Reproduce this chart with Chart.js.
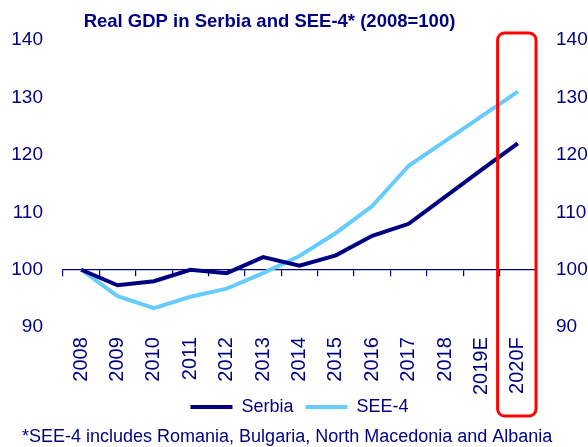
<!DOCTYPE html>
<html>
<head>
<meta charset="utf-8">
<script src="https://cdn.jsdelivr.net/npm/chart.js@4/dist/chart.umd.min.js"></script>
<style>
  html, body { margin: 0; padding: 0; background: #fff; }
  #wrap { width: 588px; height: 447px; position: relative; }
</style>
</head>
<body>
<div id="wrap"><canvas id="c" width="588" height="447"></canvas></div>
<script>
const categories = ['2008','2009','2010','2011','2012','2013','2014','2015','2016','2017','2018','2019E','2020F'];
const serbia = [100, 97.3, 98.0, 100.0, 99.4, 102.2, 100.7, 102.5, 105.9, 108.0, 112.7, 117.4, 122.0];
const see4   = [100, 95.4, 93.3, 95.3, 96.7, 99.4, 102.4, 106.4, 111.1, 118.1, 122.4, 126.7, 131.0];
const yTicks = [90, 100, 110, 120, 130, 140];
const highlighted = '2020F';
const titleText = 'Real GDP in Serbia and SEE-4* (2008=100)';
const footnoteText = '*SEE-4 includes Romania, Bulgaria, North Macedonia and Albania';

const NAVY = '#000080';
const LIGHT = '#66CCFF';
const FONT = 'Arial, "Liberation Sans", sans-serif';

const decorations = {
  id: 'decorations',
  afterLayout(chart) {
    // tuck the legend up close to the rotated year labels
    chart.legend.top -= 19;
    chart.legend.bottom -= 19;
  },
  afterDraw(chart) {
    const ctx = chart.ctx;
    const xs = chart.scales.x;
    const area = chart.chartArea;
    const legendMid = chart.legend.top + 12 + 9;
    // highlight box around the forecast column
    const idx = categories.indexOf(highlighted);
    const half = (xs.getPixelForValue(1) - xs.getPixelForValue(0)) / 2;
    const cx = xs.getPixelForValue(idx);
    const left = cx - half - 2, right = cx + half;
    const top = area.top - 7;
    const bottom = legendMid + 9;
    ctx.save();
    ctx.strokeStyle = '#FF0000';
    ctx.lineWidth = 3;
    ctx.beginPath();
    ctx.roundRect(left, top, right - left, bottom - top, 7);
    ctx.stroke();
    // title
    ctx.fillStyle = NAVY;
    ctx.textBaseline = 'middle';
    ctx.textAlign = 'center';
    ctx.font = 'bold 18.5px ' + FONT;
    ctx.fillText(titleText, (area.left + area.right) / 2 - 30, area.top - 18);
    // footnote
    ctx.textAlign = 'left';
    ctx.font = '18px ' + FONT;
    ctx.fillText(footnoteText, 22, legendMid + 30);
    ctx.restore();
  }
};

const fixWidth = (s) => { s.width = 52; };

new Chart(document.getElementById('c'), {
  type: 'line',
  data: {
    labels: categories,
    datasets: [
      { label: 'Serbia', data: serbia, borderColor: NAVY, backgroundColor: NAVY, borderWidth: 4, pointRadius: 0, tension: 0, xAxisID: 'x' },
      { label: 'SEE-4', data: see4, borderColor: LIGHT, backgroundColor: LIGHT, borderWidth: 4, pointRadius: 0, tension: 0, xAxisID: 'x' }
    ]
  },
  options: {
    responsive: false,
    animation: false,
    devicePixelRatio: 1,
    layout: { padding: { left: 11, right: 0, top: 40, bottom: 2 } },
    plugins: {
      title: { display: false },
      legend: {
        position: 'bottom',
        labels: {
          color: NAVY,
          font: { family: FONT, size: 18 },
          usePointStyle: true,
          pointStyle: 'line',
          pointStyleWidth: 42,
          boxHeight: 4,
          padding: 12
        }
      },
      tooltip: { enabled: false }
    },
    scales: {
      x: {
        type: 'category',
        position: 'bottom',
        offset: true,
        grid: { display: false, drawTicks: false },
        border: { display: false },
        ticks: { color: NAVY, font: { family: FONT, size: 20 }, maxRotation: 90, minRotation: 90, padding: 10, autoSkip: false }
      },
      xAxis100: {
        type: 'category',
        labels: categories,
        position: { y: 100 },
        offset: true,
        grid: { display: true, offset: true, drawOnChartArea: false, drawTicks: true, tickLength: 6, color: NAVY, lineWidth: 1.2 },
        border: { display: true, color: NAVY, width: 1.2 },
        ticks: { display: false }
      },
      y: {
        position: 'left',
        min: 90, max: 140,
        afterBuildTicks: (s) => { s.ticks = yTicks.map(v => ({ value: v })); },
        afterFit: fixWidth,
        grid: { display: false, drawTicks: false },
        border: { display: false },
        ticks: { color: NAVY, font: { family: FONT, size: 19 }, padding: 20 }
      },
      y2: {
        position: 'right',
        min: 90, max: 140,
        afterBuildTicks: (s) => { s.ticks = yTicks.map(v => ({ value: v })); },
        afterFit: fixWidth,
        grid: { display: false, drawTicks: false },
        border: { display: false },
        ticks: { color: NAVY, font: { family: FONT, size: 19 }, padding: 20 }
      }
    }
  },
  plugins: [decorations]
});
</script>
</body>
</html>
